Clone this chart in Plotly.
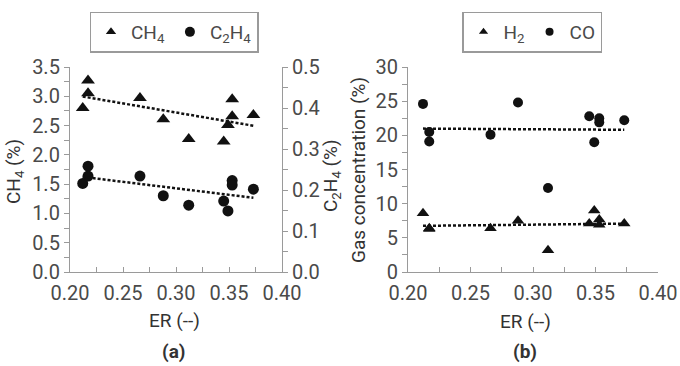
import plotly.graph_objects as go
import numpy as np

# ---- data ----
er = [0.212, 0.217, 0.217, 0.266, 0.288, 0.312, 0.345, 0.349, 0.353, 0.353, 0.373]
ch4 = [2.80, 3.27, 3.05, 2.97, 2.61, 2.27, 2.23, 2.51, 2.95, 2.66, 2.68]
c2h4 = [0.216, 0.258, 0.234, 0.234, 0.186, 0.163, 0.173, 0.149, 0.223, 0.212, 0.202]
h2 = [8.6, 6.4, 6.3, 6.4, 7.5, 3.2, 7.1, 9.0, 7.7, 6.9, 7.1]
co = [24.6, 20.5, 19.1, 20.1, 24.8, 12.3, 22.8, 19.0, 22.5, 21.9, 22.2]

x_ticks = [0.20, 0.25, 0.30, 0.35, 0.40]
FONT = "Roboto"
W, H = 680, 366
BLACK = "#111111"
AX = "#9a9a9a"
TXT = "#4a4a4a"


def trend(xs, ys):
    k, b = np.polyfit(xs, ys, 1)
    xx = np.array([min(xs), max(xs)])
    return xx, k * xx + b


fig = go.Figure()
DASH = dict(color=BLACK, width=2.5, dash="3px,2px")

# left panel
fig.add_trace(go.Scatter(x=er, y=ch4, mode="markers", xaxis="x", yaxis="y",
                         marker=dict(symbol="triangle-up", size=12, color=BLACK),
                         showlegend=False))
tx, ty = trend(er, ch4)
fig.add_trace(go.Scatter(x=tx, y=ty, mode="lines", xaxis="x", yaxis="y",
                         line=DASH, showlegend=False))
fig.add_trace(go.Scatter(x=er, y=c2h4, mode="markers", xaxis="x", yaxis="y2",
                         marker=dict(symbol="circle", size=11, color=BLACK),
                         showlegend=False))
tx, ty = trend(er, c2h4)
fig.add_trace(go.Scatter(x=tx, y=ty, mode="lines", xaxis="x", yaxis="y2",
                         line=DASH, showlegend=False))

# right panel
fig.add_trace(go.Scatter(x=er, y=h2, mode="markers", xaxis="x2", yaxis="y3",
                         marker=dict(symbol="triangle-up", size=11, color=BLACK),
                         showlegend=False))
tx, ty = trend(er, h2)
fig.add_trace(go.Scatter(x=tx, y=ty, mode="lines", xaxis="x2", yaxis="y3",
                         line=DASH, showlegend=False))
fig.add_trace(go.Scatter(x=er, y=co, mode="markers", xaxis="x2", yaxis="y3",
                         marker=dict(symbol="circle", size=10, color=BLACK),
                         showlegend=False))
tx, ty = trend(er, co)
fig.add_trace(go.Scatter(x=tx, y=ty, mode="lines", xaxis="x2", yaxis="y3",
                         line=DASH, showlegend=False))

# legend entries
fig.add_trace(go.Scatter(x=[None], y=[None], mode="markers", name="CH<sub>4</sub>",
                         marker=dict(symbol="triangle-up", size=9, color=BLACK),
                         xaxis="x", yaxis="y", legend="legend"))
fig.add_trace(go.Scatter(x=[None], y=[None], mode="markers", name="C<sub>2</sub>H<sub>4</sub>",
                         marker=dict(symbol="circle", size=10, color=BLACK),
                         xaxis="x", yaxis="y", legend="legend"))
fig.add_trace(go.Scatter(x=[None], y=[None], mode="markers", name="H<sub>2</sub>",
                         marker=dict(symbol="triangle-up", size=8, color=BLACK),
                         xaxis="x2", yaxis="y3", legend="legend2"))
fig.add_trace(go.Scatter(x=[None], y=[None], mode="markers", name="CO",
                         marker=dict(symbol="circle", size=8, color=BLACK),
                         xaxis="x2", yaxis="y3", legend="legend2"))

ydom = [1 - 272 / H, 1 - 67 / H]
tickfont = dict(family=FONT, size=20, color=TXT)

xcommon = dict(range=[0.2, 0.4], tickvals=x_ticks, tickformat=".2f", showline=True,
               linecolor=AX, linewidth=1.2, ticks="inside", ticklen=5, tickcolor=AX,
               minor=dict(dtick=0.025, ticks="inside", ticklen=5, tickcolor=AX),
               showgrid=False, zeroline=False, tickfont=tickfont, fixedrange=True,
               automargin=False, ticklabelstandoff=3)
ycommon = dict(showline=True, linecolor=AX, linewidth=1.2, ticks="outside", ticklen=5,
               tickcolor=AX, showgrid=False, zeroline=False, tickfont=tickfont,
               fixedrange=True, automargin=False)

legcommon = dict(orientation="h", y=1 - 32 / H, xanchor="center", yanchor="middle",
                 bordercolor=AX, borderwidth=1.5, font=dict(family=FONT, size=19, color=TXT),
                 itemwidth=30, bgcolor="white")

fig.update_layout(
    width=W, height=H, margin=dict(l=0, r=0, t=0, b=0, autoexpand=False),
    paper_bgcolor="white", plot_bgcolor="white",
    font=dict(family=FONT, color=TXT),
    xaxis=dict(domain=[70 / W, 282 / W], anchor="y", **xcommon),
    xaxis2=dict(domain=[408 / W, 658 / W], anchor="y3", **xcommon),
    yaxis=dict(domain=ydom, anchor="x", range=[0, 3.5], dtick=0.5, tickformat=".1f",
               minor=dict(dtick=0.25, ticks="outside", ticklen=5, tickcolor=AX), **ycommon),
    yaxis2=dict(anchor="x", overlaying="y", side="right", range=[0, 0.5], dtick=0.1,
                tickformat=".1f",
                minor=dict(dtick=0.05, ticks="outside", ticklen=5, tickcolor=AX), **ycommon),
    yaxis3=dict(domain=ydom, anchor="x2", range=[0, 30], dtick=5,
                minor=dict(dtick=2.5, ticks="outside", ticklen=5, tickcolor=AX), **ycommon),
    legend=dict(x=174 / W, **legcommon),
    legend2=dict(x=532 / W, **legcommon),
)

ann = [
    dict(text="CH<sub>4</sub> (%)", x=14 / W, y=1 - 172 / H, textangle=-90),
    dict(text="C<sub>2</sub>H<sub>4</sub> (%)", x=331 / W, y=1 - 176 / H, textangle=-90),
    dict(text="Gas concentration (%)", x=358 / W, y=1 - 170 / H, textangle=-90),
    dict(text="ER (--)", x=174 / W, y=1 - 320 / H),
    dict(text="ER (--)", x=525 / W, y=1 - 321 / H),
]
for a in ann:
    fig.add_annotation(xref="paper", yref="paper", showarrow=False, xanchor="center",
                       yanchor="middle", font=dict(family=FONT, size=19, color="#333333"), **a)
for t, xp in [("<b>(a)</b>", 173), ("<b>(b)</b>", 525)]:
    fig.add_annotation(text=t, x=xp / W, y=1 - 351 / H, xref="paper", yref="paper",
                       showarrow=False, xanchor="center", yanchor="middle",
                       font=dict(family=FONT, size=19, color="#333333"))

fig.write_html("out.html")
